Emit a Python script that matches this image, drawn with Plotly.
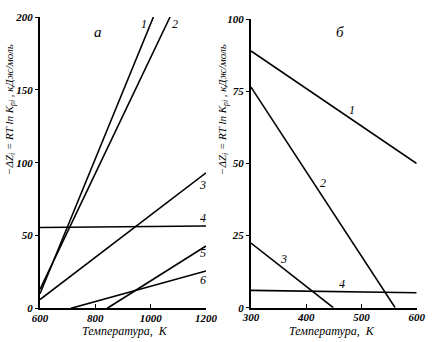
import plotly.graph_objects as go

# ---- data: panel "а" (left) ----
a1_T = [600, 1010]; a1_V = [10, 200]
a2_T = [600, 1070]; a2_V = [13, 200]
a3_T = [600, 1200]; a3_V = [6, 93]
a4_T = [600, 1200]; a4_V = [55.5, 56.5]
a5_T = [843, 1200]; a5_V = [0, 42.8]
a6_T = [712, 1200]; a6_V = [0, 25.6]
a_series = [(a1_T, a1_V), (a2_T, a2_V), (a3_T, a3_V), (a4_T, a4_V), (a5_T, a5_V), (a6_T, a6_V)]
a_labels = ["1", "2", "3", "4", "5", "6"]
a_label_T = [976, 1088, 1188, 1190, 1190, 1190]
a_label_V = [195, 195, 85, 62, 38, 19.5]
a_xticks = [600, 800, 1000, 1200]
a_yticks = [0, 50, 100, 150, 200]

# ---- data: panel "б" (right) ----
b1_T = [300, 600]; b1_V = [89, 50]
b2_T = [300, 561]; b2_V = [76.5, 0]
b3_T = [300, 449]; b3_V = [22.4, 0]
b4_T = [300, 600]; b4_V = [6, 5.2]
b_series = [(b1_T, b1_V), (b2_T, b2_V), (b3_T, b3_V), (b4_T, b4_V)]
b_labels = ["1", "2", "3", "4"]
b_label_T = [482, 431, 358, 464]
b_label_V = [68.6, 43.3, 16.8, 8.2]
b_xticks = [300, 400, 500, 600]
b_yticks = [0, 25, 50, 75, 100]

FONT = "Liberation Serif"
W, H = 437, 342

fig = go.Figure()
for T, V in a_series:
    fig.add_trace(go.Scatter(x=T, y=V, mode="lines", line=dict(color="black", width=1.6),
                             xaxis="x", yaxis="y", cliponaxis=False, showlegend=False, hoverinfo="skip"))
for T, V in b_series:
    fig.add_trace(go.Scatter(x=T, y=V, mode="lines", line=dict(color="black", width=1.6),
                             xaxis="x2", yaxis="y2", cliponaxis=False, showlegend=False, hoverinfo="skip"))

tickfont = dict(family=FONT, size=11, color="black", style="italic", weight="bold")
axis_common = dict(showgrid=False, zeroline=False, showline=True, linecolor="black",
                   linewidth=2, ticks="outside", ticklen=3, tickcolor="black", tickwidth=1,
                   tickfont=tickfont, automargin=False, fixedrange=True)

def px2paper_x(p):
    return p / W

def px2paper_y(p):
    return (H - p) / H

fig.update_layout(
    width=W, height=H, margin=dict(l=0, r=0, t=0, b=0),
    paper_bgcolor="white", plot_bgcolor="white",
    xaxis=dict(axis_common, domain=[px2paper_x(40), px2paper_x(206)], range=[600, 1200],
               tickvals=a_xticks, ticks="inside", ticklen=4, ticklabelstandoff=-2, anchor="y"),
    yaxis=dict(axis_common, domain=[px2paper_y(308.3), px2paper_y(17)], range=[0, 200],
               tickvals=a_yticks, anchor="x"),
    xaxis2=dict(axis_common, domain=[px2paper_x(251), px2paper_x(416.7)], range=[300, 600],
                tickvals=b_xticks, ticks="inside", ticklen=4, ticklabelstandoff=-2, anchor="y2"),
    yaxis2=dict(axis_common, domain=[px2paper_y(307.7), px2paper_y(19.3)], range=[0, 100],
                tickvals=b_yticks, anchor="x2"),
)

ann = []
lblfont = dict(family=FONT, size=12, color="black", style="italic")
for t, T, V in zip(a_labels, a_label_T, a_label_V):
    ann.append(dict(x=T, y=V, xref="x", yref="y", text=t, showarrow=False, font=lblfont,
                    xanchor="center", yanchor="middle"))
for t, T, V in zip(b_labels, b_label_T, b_label_V):
    ann.append(dict(x=T, y=V, xref="x2", yref="y2", text=t, showarrow=False, font=lblfont,
                    xanchor="center", yanchor="middle"))
ann.append(dict(x=811, y=190, xref="x", yref="y", text="а", showarrow=False,
                xanchor="center", yanchor="middle",
                font=dict(family=FONT, size=15, color="black", style="italic")))
ann.append(dict(x=461, y=95.5, xref="x2", yref="y2", text="б", showarrow=False,
                xanchor="center", yanchor="middle",
                font=dict(family=FONT, size=15, color="black", style="italic")))

ytitle = "−ΔZ<sub>i</sub> = RT ln K<sub>pi</sub> , кДж/моль"
for xp in (10, 223):
    ann.append(dict(x=px2paper_x(xp), y=px2paper_y(110), xref="paper", yref="paper",
                    text=ytitle, textangle=-90, showarrow=False,
                    xanchor="center", yanchor="middle",
                    font=dict(family=FONT, size=11, color="black", style="italic")))
for xp in (125, 332):
    ann.append(dict(x=px2paper_x(xp), y=px2paper_y(331), xref="paper", yref="paper",
                    text="Температура,  К", showarrow=False,
                    xanchor="center", yanchor="middle",
                    font=dict(family=FONT, size=12, color="black", style="italic")))
fig.update_layout(annotations=ann)

fig.write_html("out.html")
